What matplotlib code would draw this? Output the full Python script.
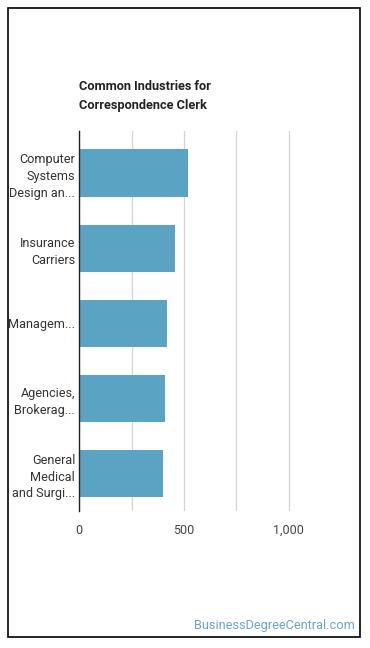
import matplotlib
matplotlib.use("Agg")
import matplotlib.pyplot as plt
from matplotlib.patches import Rectangle

plt.rcParams['font.family'] = ['Roboto', 'DejaVu Sans']

# Данные
industries = [
    "Computer\nSystems\nDesign an...",
    "Insurance\nCarriers",
    "Managem...",
    "Agencies,\nBrokerag...",
    "General\nMedical\nand Surgi...",
]
employees = [520, 458, 420, 410, 401]
x_ticks = [0, 500, 1000]
x_tick_labels = ["0", "500", "1,000"]

fig = plt.figure(figsize=(3.7, 6.48), dpi=100)
# ось: слева 79 px, снизу 511 px, сверху 131 px
ax = fig.add_axes([79.3 / 370, 1 - 511.2 / 648, 251.5 / 370, 380.2 / 648])

positions = list(range(len(industries)))
ax.barh(positions, employees, height=0.63, color='#5ba3c2', zorder=3)
ax.set_ylim(len(industries) - 0.5, -0.56)
ax.set_xlim(0, 1200)

ax.set_yticks(positions)
ax.set_yticklabels(industries, fontsize=9.1, color='#333333', linespacing=1.38)
ax.set_xticks(x_ticks)
ax.set_xticklabels(x_tick_labels, fontsize=9, color='#444444')
ax.set_xticks([250, 750], minor=True)
ax.tick_params(axis='y', length=0, pad=3)
ax.tick_params(axis='x', which='both', length=0, pad=9)

ax.grid(axis='x', which='both', color='#d4d4d4', linewidth=0.9, zorder=0)
for side in ['top', 'right', 'bottom']:
    ax.spines[side].set_visible(False)
ax.spines['left'].set_color('#222222')
ax.spines['left'].set_linewidth(1.0)
ax.spines['left'].set_zorder(4)

# Заголовок
fig.text(79 / 370, 1 - 87 / 648, "Common Industries for", fontsize=9.2,
         fontweight='bold', color='#222222', va='center', ha='left')
fig.text(79 / 370, 1 - 106 / 648, "Correspondence Clerk", fontsize=9.2,
         fontweight='bold', color='#222222', va='center', ha='left')

# Подпись сайта
fig.text(355 / 370, 1 - 626 / 648, "BusinessDegreeCentral.com", fontsize=9.2,
         color='#6aa6c2', va='center', ha='right')

# Рамка
fig.patches.append(Rectangle((8 / 370, 1 - 636.5 / 648), 351.5 / 370, 628.5 / 648,
                             transform=fig.transFigure, fill=False,
                             edgecolor='black', linewidth=1.2))

fig.savefig("out.png", dpi=100)
